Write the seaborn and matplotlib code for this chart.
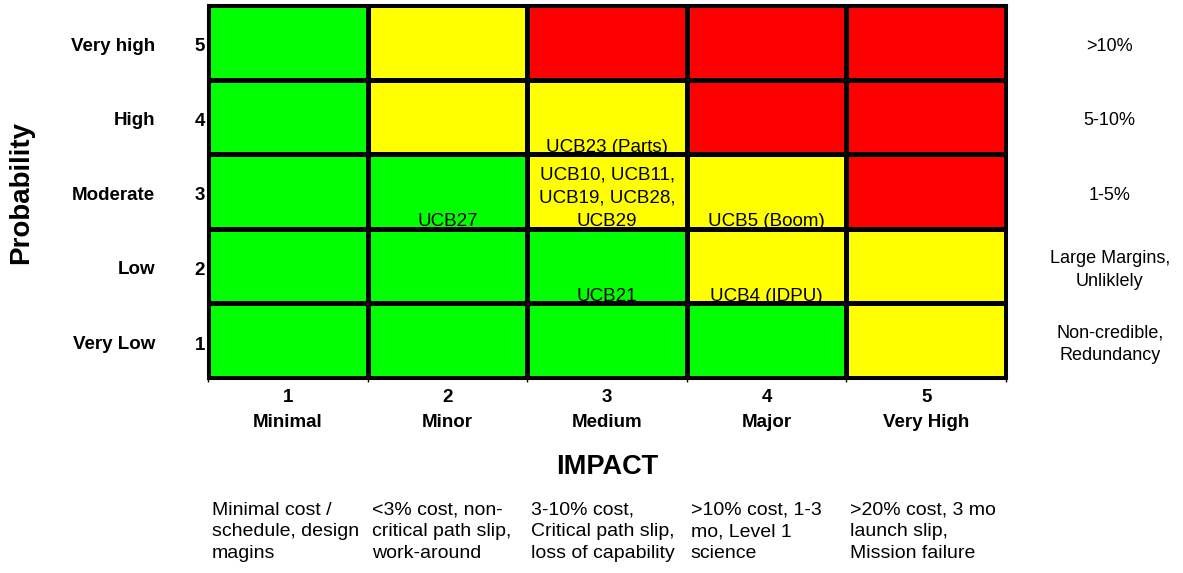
import numpy as np
import pandas as pd
import matplotlib
matplotlib.use("Agg")
import matplotlib.pyplot as plt
import seaborn as sns
from matplotlib.colors import ListedColormap

# probability axis (top row first)
prob_levels = [5, 4, 3, 2, 1]
prob_names = ["Very high", "High", "Moderate", "Low", "Very Low"]
prob_desc = [">10%", "5-10%", "1-5%", "Large Margins,\nUnliklely", "Non-credible,\nRedundancy"]

# impact axis
impact_levels = [1, 2, 3, 4, 5]
impact_names = ["Minimal", "Minor", "Medium", "Major", "Very High"]
impact_desc = [
    "Minimal cost /\nschedule, design\nmagins",
    "<3% cost, non-\ncritical path slip,\nwork-around",
    "3-10% cost,\nCritical path slip,\nloss of capability",
    ">10% cost, 1-3\nmo, Level 1\nscience",
    ">20% cost, 3 mo\nlaunch slip,\nMission failure",
]

# risk level per cell: 0 = green, 1 = yellow, 2 = red
risk_rows = [
    [0, 1, 2, 2, 2],
    [0, 1, 1, 2, 2],
    [0, 0, 1, 1, 2],
    [0, 0, 0, 1, 1],
    [0, 0, 0, 0, 1],
]
risk_colors = ["#00ff00", "#ffff00", "#ff0000"]

# risk items placed in the matrix
item_prob = [4, 3, 3, 3, 2, 2]
item_impact = [3, 2, 3, 4, 3, 4]
item_labels = ["UCB23 (Parts)", "UCB27", "UCB10, UCB11,\nUCB19, UCB28,\nUCB29",
               "UCB5 (Boom)", "UCB21", "UCB4 (IDPU)"]

sns.set_theme(style="white")
plt.rcParams["font.family"] = ["Liberation Sans", "DejaVu Sans"]
plt.rcParams["text.color"] = "black"
plt.rcParams["xtick.color"] = "black"
plt.rcParams["ytick.color"] = "black"

grid = pd.DataFrame(risk_rows, index=prob_levels, columns=impact_levels)

fig = plt.figure(figsize=(11.83, 5.73), dpi=100)
ax = fig.add_axes([208 / 1183, 195 / 573, 798 / 1183, 373 / 573])
sns.heatmap(grid, ax=ax, cmap=ListedColormap(risk_colors), vmin=0, vmax=2,
            cbar=False, linewidths=2.2, linecolor="black")

for sp in ax.spines.values():
    sp.set_visible(True)
    sp.set_linewidth(2.2)
    sp.set_color("black")

ax.set_xlabel("")
ax.set_ylabel("")
ax.set_xticks(np.arange(5) + 0.5)
ax.set_xticklabels([f"{n}\n{name}" for n, name in zip(impact_levels, impact_names)],
                   fontsize=13.5, fontweight="bold", rotation=0, color="black")
for t in ax.get_xticklabels():
    t.set_linespacing(1.6)
ax.set_yticks(np.arange(5) + 0.56)
ax.set_yticklabels(prob_levels, fontsize=13.5, fontweight="bold", rotation=0, color="black")
ax.tick_params(axis="x", which="major", length=0, pad=8)
ax.tick_params(axis="y", which="major", length=0, pad=2)
ax.set_xticks(np.arange(6), minor=True)
ax.tick_params(axis="x", which="minor", bottom=True, length=3, width=1, color="black")

# items inside cells
for p, imp, lab in zip(item_prob, item_impact, item_labels):
    ax.text(imp - 0.5, (5 - p) + 1.02, lab, ha="center", va="bottom",
            fontsize=13.5, color="black", linespacing=1.5)

# probability names and descriptions
ytr = ax.get_yaxis_transform()
for i, (name, desc) in enumerate(zip(prob_names, prob_desc)):
    ax.text(-0.066, i + 0.55, name, transform=ytr, ha="right", va="center",
            fontsize=13.5, fontweight="bold", color="black")
    ax.text(1.130, i + 0.55, desc, transform=ytr, ha="center", va="center",
            fontsize=13, linespacing=1.45, color="black")

# impact descriptions
xtr = ax.get_xaxis_transform()
for j, desc in enumerate(impact_desc):
    ax.text(j + 0.025, -0.332, desc, transform=xtr, ha="left", va="top",
            fontsize=14, linespacing=1.35, color="black")

ax.text(2.5, -0.239, "IMPACT", transform=xtr, ha="center", va="center",
        fontsize=19.5, fontweight="bold", color="black")
fig.text(21 / 1183, 1 - 193 / 573, "Probability", rotation=90, ha="center",
         va="center", fontsize=20, fontweight="bold", color="black")

fig.savefig("out.png", dpi=100)
